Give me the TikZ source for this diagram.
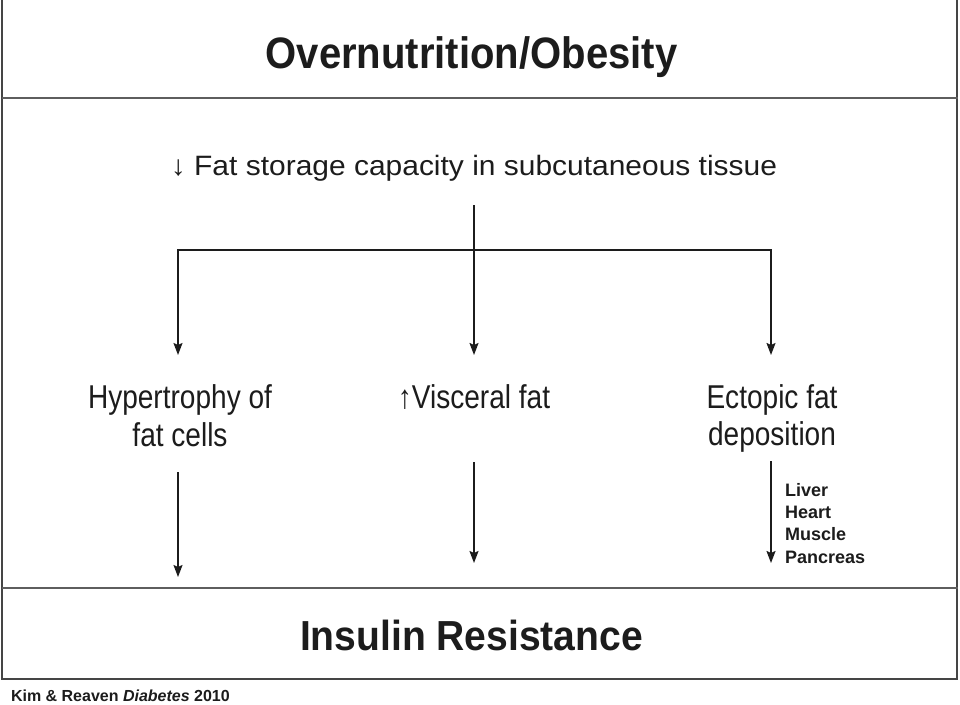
\documentclass[tikz,border=0pt]{standalone}
\usepackage{fontspec}
\setmainfont{Liberation Sans}
\usetikzlibrary{arrows.meta}
\newfontfamily\titlefam[FakeStretch=0.91]{Liberation Sans}
\newfontfamily\fsfam[FakeStretch=1.07]{Liberation Sans}
\newfontfamily\labfam[FakeStretch=0.85]{Liberation Sans}
\newfontfamily\insfam[FakeStretch=0.93]{Liberation Sans}
\definecolor{ink}{HTML}{1C1C1C}
\definecolor{framecol}{HTML}{454545}
\definecolor{sepcol}{HTML}{5E5E5E}
\begin{document}
\begin{tikzpicture}[x=1pt,y=-1pt,
  txt/.style={inner sep=0pt, outer sep=0pt, text=ink},
  conn/.style={draw=ink, line width=1.6pt},
  arr/.style={conn, -{Stealth[length=12pt,width=9pt,inset=2pt]}},
  framestyle/.style={draw=framecol, line width=2pt},
  sepstyle/.style={draw=sepcol, line width=2.5pt}]
\useasboundingbox (0,0) rectangle (960,704);
\fill[white] (0,0) rectangle (960,704);
% frame and separators
\draw[framestyle] (2,0) -- (2,679) -- (957,679) -- (957,0);
\draw[sepstyle] (2,98) -- (958,98);
\draw[sepstyle] (2,588) -- (958,588);
% texts
\node[txt, anchor=base, font={\titlefam\bfseries\fontsize{44}{48}\selectfont}] (title) at (471.5,68) {Overnutrition/Obesity};
\node[txt, anchor=base, font={\fsfam\fontsize{28}{32}\selectfont}] (fs) at (474,175) {↓ Fat storage capacity in subcutaneous tissue};
\node[txt, anchor=base, align=center, font={\labfam\fontsize{33}{38}\selectfont}] (hyp) at (180,446) {Hypertrophy of\\fat cells};
\node[txt, anchor=base, font={\labfam\fontsize{33}{38}\selectfont}] (visc) at (474,408) {↑Visceral fat};
\node[txt, anchor=base, align=center, font={\labfam\fontsize{33}{37}\selectfont}] (ect) at (772,445) {Ectopic fat\\deposition};
\node[txt, anchor=base, font={\insfam\bfseries\fontsize{42}{48}\selectfont}] (ir) at (471.5,650) {Insulin Resistance};
\node[txt, anchor=base west, align=left, font={\bfseries\fontsize{18}{22.3}\selectfont}] (org) at (785,563) {Liver\\Heart\\Muscle\\Pancreas};
\node[txt, anchor=base west, font={\bfseries\fontsize{16}{19}\selectfont}] (foot) at (11,701) {Kim \& Reaven \textit{Diabetes} 2010};
% connector points
\coordinate (fsb) at (474,205);
\coordinate (jn) at (474,250);
\coordinate (t1) at (178,355);
\coordinate (t2) at (474,355);
\coordinate (t3) at (771,355);
\coordinate (s1) at (178,472);
\coordinate (e1) at (178,577);
\coordinate (s2) at (474,462);
\coordinate (e2) at (474,563);
\coordinate (s3) at (771,461);
\coordinate (e3) at (771,563);
% connectors
\draw[arr] (fsb) -- (t2);
\draw[arr] (jn) -| (t1);
\draw[arr] (jn) -| (t3);
\draw[arr] (s1) -- (e1);
\draw[arr] (s2) -- (e2);
\draw[arr] (s3) -- (e3);
\end{tikzpicture}
\end{document}
